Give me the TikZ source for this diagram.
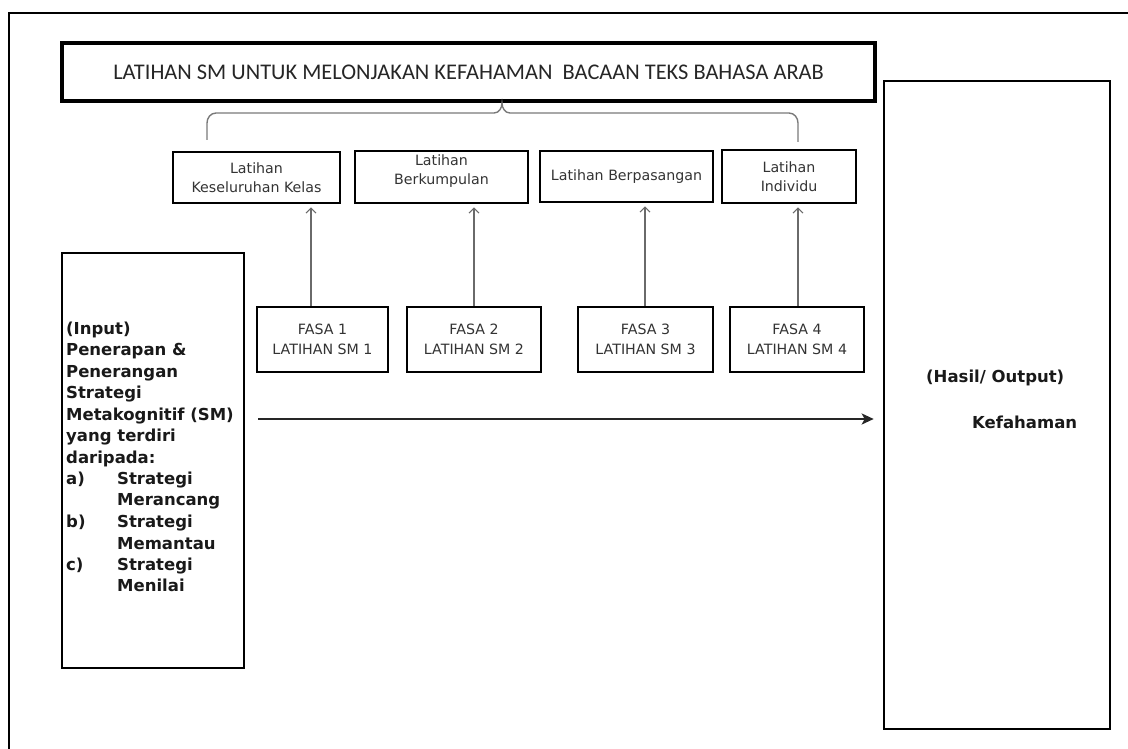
\documentclass[tikz,border=0pt]{standalone}
\usepackage{fontspec}
\setmainfont{Carlito}
\newfontfamily\lblfont{DejaVu Sans}
\usetikzlibrary{arrows.meta}
\definecolor{txtgray}{HTML}{333333}
\definecolor{linegray}{HTML}{6A6A6A}
\begin{document}
\begin{tikzpicture}[x=1pt,y=-1pt,
  boxstyle/.style={draw=black,line width=2.6pt,inner sep=0pt,align=center,
    text=txtgray,font=\lblfont\fontsize{14.2}{19.5}\selectfont},
  titlestyle/.style={draw=black,line width=3.6pt,inner sep=0pt,text=black!85,
    font=\fontsize{22.4}{24}\selectfont},
  bigbox/.style={draw=black,line width=2.6pt,inner sep=0pt},
  boldtext/.style={inner sep=0pt,text=black!90,font=\lblfont\bfseries\fontsize{16.5}{21.5}\selectfont},
  varrow/.style={draw=linegray,line width=1.1pt,-{Straight Barb[length=5pt,width=10pt,line width=1.1pt]},shorten >=3pt},
  harrow/.style={draw=black!85,line width=2.2pt,-{Stealth[length=12pt,width=11pt,inset=3pt]}},
  bracestyle/.style={draw=linegray!90,line width=1.4pt}
]
\useasboundingbox (0,0) rectangle (1128,749);
% outer frame
\draw[line width=2pt] (9,749) -- (9,13) -- (1128,13);

% title
\node[titlestyle,minimum width=813pt,minimum height=58pt] (title) at (468.5,72)
  {LATIHAN SM UNTUK MELONJAKAN KEFAHAMAN\ \ BACAAN TEKS BAHASA ARAB};

% top row boxes
\node[boxstyle,minimum width=167pt,minimum height=51pt] (l1) at (256.5,177.5) {Latihan\\Keseluruhan Kelas};
\node[boxstyle,minimum width=173pt,minimum height=52pt] (l2) at (441.5,177) {};
\node[inner sep=0pt,align=center,text=txtgray,font=\lblfont\fontsize{14.2}{19.5}\selectfont] (l2t) at (441.5,171) {Latihan\\Berkumpulan};
\node[boxstyle,minimum width=173pt,minimum height=51pt] (l3) at (626.5,176.5) {Latihan Berpasangan};
\node[boxstyle,minimum width=134pt,minimum height=53pt] (l4) at (789,176.5) {Latihan\\Individu};

% brace
\coordinate (bl) at (207,140);
\coordinate (bm) at (502,103);
\coordinate (br) at (798,142);
\draw[bracestyle] (bl) -- (207,123) to[out=90,in=180] (216,113) -- (494,113)
  to[out=0,in=-90] (bm) to[out=-90,in=180] (510,113) -- (789,113)
  to[out=0,in=90] (br |- 0,123) -- (br);

% phase boxes
\node[boxstyle,minimum width=131pt,minimum height=65pt] (f1) at (322.5,339.5) {FASA 1\\LATIHAN SM 1};
\node[boxstyle,minimum width=134pt,minimum height=65pt] (f2) at (474,339.5) {FASA 2\\LATIHAN SM 2};
\node[boxstyle,minimum width=135pt,minimum height=65pt] (f3) at (645.5,339.5) {FASA 3\\LATIHAN SM 3};
\node[boxstyle,minimum width=134pt,minimum height=65pt] (f4) at (797,339.5) {FASA 4\\LATIHAN SM 4};

% vertical arrows
\coordinate (x1) at (311,0);
\coordinate (x2) at (474,0);
\coordinate (x3) at (645,0);
\coordinate (x4) at (798,0);
\draw[varrow] (f1.north -| x1) -- (l1.south -| x1);
\draw[varrow] (f2.north -| x2) -- (l2.south -| x2);
\draw[varrow] (f3.north -| x3) -- (l3.south -| x3);
\draw[varrow] (f4.north -| x4) -- (l4.south -| x4);

% input box
\node[bigbox,minimum width=182pt,minimum height=415pt] (in) at (153,460.5) {};
\node[boldtext,anchor=base west] (intext) at (66,334) {%
  \begin{tabular}[t]{@{}l@{}}
  (Input)\\
  Penerapan \&\\
  Penerangan\\
  Strategi\\
  Metakognitif (SM)\\
  yang terdiri\\
  daripada:\\
  \makebox[51pt][l]{a)}Strategi\\
  \hspace*{51pt}Merancang\\
  \makebox[51pt][l]{b)}Strategi\\
  \hspace*{51pt}Memantau\\
  \makebox[51pt][l]{c)}Strategi\\
  \hspace*{51pt}Menilai
  \end{tabular}};

% output box
\node[bigbox,minimum width=226pt,minimum height=648pt] (out) at (997,405) {};
\node[boldtext,anchor=west] (outa) at (926,378) {(Hasil/ Output)};
\node[boldtext,anchor=west] (outb) at (972,422) {Kefahaman};

% main arrow
\coordinate (ya) at (0,419);
\draw[harrow,shorten <=13pt,shorten >=9pt] (in.east |- ya) -- (out.west |- ya);
\end{tikzpicture}
\end{document}
